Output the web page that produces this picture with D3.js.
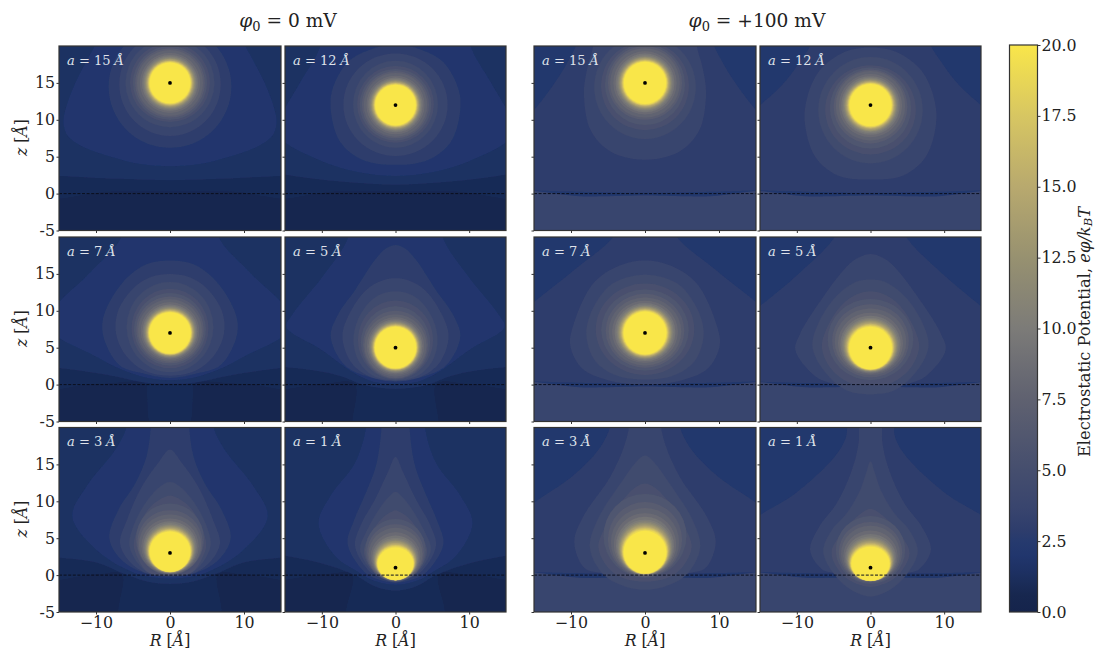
<!DOCTYPE html>
<html>
<head>
<meta charset="utf-8">
<script src="https://cdn.jsdelivr.net/npm/d3@7"></script>
<style>
  body { margin: 0; background: #fff; }
  text { font-family: "DejaVu Serif", serif; fill: #222; }
</style>
</head>
<body>
<svg id="chart" width="1095" height="650"></svg>
<script>
////////////////////////////  VALUES  ////////////////////////////
var ionHeights = [15, 12, 7, 5, 3, 1];
var xTicks = [-10, 0, 10];
var zTicks = [-5, 0, 5, 10, 15];
var barTicks = [0, 2.5, 5, 7.5, 10, 12.5, 15, 17.5, 20];

var colorLevels = [0, 0.6, 1.0, 1.4, 2.0, 2.5, 2.9, 3.7, 5, 7.5, 10, 12.5, 15, 17.5, 20];
var colorStops = ["#15244c", "#17274f", "#1a2c58", "#1d3062", "#21366d", "#263a6e", "#2e3d6c", "#39456e",
                  "#454e6e", "#5f6170", "#7c7b78", "#979170", "#b8a96e", "#d7c662", "#f9e64a"];

// soft edge of the disc: level, and how far out between disc and last ring
var glowLevels = [19, 18, 17, 16, 15, 14, 13, 12, 11, 10.1, 9.3, 8.5];
var glowSteps = [0.05, 0.085, 0.12, 0.155, 0.195, 0.245, 0.3, 0.355, 0.42, 0.5, 0.61, 0.77];

// half outlines [R, z], level first. rings: level, top, bottom, half width. disc: top, bottom, half width
var shapes0_15 = [
  [0.9, [[0,0.3],[8,0.3],[20,0.3],[20,30],[0,30]]],
  [1.4, [[0,1.8],[7,2],[15,2.4],[20,2.6],[20,30],[0,30]]],
  [2.0, [[0,3.7],[4,4],[8,5],[11.5,6.2],[13.8,7.8],[14.4,9.5],[14.1,11.5],[12.8,15],[11,18.5],[10,20.5],[9.5,24],[0,24]]]
];
var rings0_15 = [[2.9,22.8,6.2,8.3],[3.7,21.85,7.8,6.85],[4.5,21,9,6],[5.3,20.4,9.7,5.4],[6.1,20,10,5],[6.9,19.7,10.3,4.7],[7.7,19.45,10.55,4.45]];
var disc0_15 = [17.75, 12.25, 2.75];

var shapes0_12 = [
  [0.9, [[0,0.3],[8,0.3],[20,0.3],[20,30],[0,30]]],
  [1.4, [[0,1.2],[6,1.5],[12,2.1],[15.5,2.6],[20,3],[20,30],[0,30]]],
  [2.0, [[0,2.4],[5,2.9],[10,4.4],[15.5,7.4],[16,9],[15.5,10.6],[13,15],[10.2,20],[9.8,24],[0,24]]],
  [2.9, [[0,3.9],[4.5,4.6],[7.5,7],[8.75,11],[8.6,14],[6.5,17.8],[3.5,19.5],[0,20.2]]]
];
var rings0_12 = [[3.7,19,5.1,7.07],[4.5,18,6.2,5.75],[5.3,17.3,6.9,5.2],[6.1,16.9,7.2,4.85],[6.9,16.6,7.5,4.55],[7.7,16.35,7.7,4.3]];
var disc0_12 = [14.75, 9.25, 2.75];

var shapes0_7 = [
  [0.9, [[0,-6],[2.5,-5.5],[3.1,-1.5],[3.3,0.1],[10,0.1],[20,0.1],[20,30],[0,30]]],
  [1.4, [[0,0.1],[3.5,0.3],[7.4,1.1],[11,1.7],[15.5,2.3],[20,2.6],[20,30],[0,30]]],
  [2.0, [[0,0.6],[3,0.9],[6.5,2],[10.8,4.2],[15.5,6.8],[16,8.5],[15.5,10.5],[11,15],[6.6,20],[6.2,24],[0,24]]],
  [2.9, [[0,0.9],[4,1.6],[6.5,2.4],[7.8,3.8],[9.1,7],[8.9,9.5],[6.5,13.7],[3.4,16.2],[0,16.8]]],
  [3.7, [[0,1.2],[3.5,1.9],[6,4],[7.3,7],[7,10],[5,13],[2.5,14.6],[0,15]]]
];
var rings0_7 = [[4.5,13.9,1.7,5.85],[5.3,13,2.2,5.2],[6.1,12.4,2.6,4.85],[6.9,11.95,2.9,4.55],[7.7,11.55,3.1,4.3]];
var disc0_7 = [9.8, 4.2, 2.8];

var shapes0_5 = [
  [0.9, [[0,-6.5],[5.55,-6.5],[5.55,0.1],[10,0.1],[20,0.1],[20,30],[0,30]]],
  [1.4, [[0,-0.6],[2.5,-0.4],[4.5,0],[7.3,1.1],[11,1.9],[15.5,2.4],[20,2.7],[20,30],[0,30]]],
  [2.0, [[0,0.1],[3,0.4],[5.5,1.5],[10,4.7],[14.8,7.8],[14,9.5],[10,14.5],[6.4,20],[6,24],[0,24]]],
  [2.9, [[0,0.4],[3.5,1],[6.85,2.6],[8.8,6.5],[7.8,9.5],[5.5,12.8],[2.8,16.9],[1.2,18.5],[0,18.9]]],
  [3.7, [[0,0.5],[3.5,1.1],[6,3],[7.2,6.5],[6.3,9.5],[4,12.8],[1.8,14.1],[0,14.4]]],
  [4.5, [[0,0.6],[3,1.2],[5,3.2],[5.7,6],[5.1,8.8],[3.3,11.4],[1.5,12.4],[0,12.6]]]
];
var rings0_5 = [[5.3,11.4,0.7,5.1],[6.1,10.6,0.8,4.7],[6.9,10,0.9,4.4],[7.7,9.5,1.1,4.2]];
var disc0_5 = [7.85, 2.2, 2.8];

var shapes0_3 = [
  [0.9, [[0,-6.5],[6.7,-6],[6.5,0.1],[10,0.1],[20,0.1],[20,30],[0,30]]],
  [1.4, [[0,-1.2],[3,-0.9],[5.5,-0.1],[7,0.5],[10,1.7],[15.5,2.4],[20,2.7],[20,30],[0,30]]],
  [2.0, [[0,-0.5],[3,-0.2],[5.2,0.45],[9.7,3.2],[13.2,7.9],[11.3,12],[7.4,17],[5.9,20],[5.7,24],[0,24]]],
  [2.9, [[0,-0.2],[3.5,0.3],[6.5,2],[8.2,5],[7,8.8],[4.7,12.4],[3.2,16],[2.6,20],[2.5,24],[0,24]]],
  [3.7, [[0,-0.15],[3.5,0.4],[5.6,2],[6.75,4.3],[5.8,7.5],[3.8,12],[1.6,15.2],[0,17]]],
  [4.5, [[0,-0.1],[3,0.4],[4.8,2.3],[5.5,4.2],[4.8,7],[3,10.2],[1.3,12],[0,12.6]]],
  [5.3, [[0,-0.05],[3,0.4],[4.4,2.4],[4.9,4],[4.3,6.5],[2.7,9.2],[1.1,10.4],[0,10.8]]]
];
var rings0_3 = [[6.1,9.7,0,4.6],[6.9,8.8,0.05,4.4],[7.7,8.2,0.1,4.2]];
var disc0_3 = [5.9, 0.45, 2.75];

var shapes0_1 = [
  [0.9, [[0,-7],[6.5,-6],[5.9,0.1],[10,0.1],[20,0.1],[20,30],[0,30]]],
  [1.4, [[0,-2.1],[2,-1.8],[3.5,-1.2],[5.3,-0.1],[7,0.6],[10.5,1.7],[15.5,2.7],[20,3],[20,30],[0,30]]],
  [2.0, [[0,-1.3],[2.8,-0.8],[5.5,0.7],[8.2,2.6],[10.45,7],[8.8,10.8],[5.5,15.2],[4,20],[3.9,24],[0,24]]],
  [2.9, [[0,-1.05],[2.3,-0.6],[4.2,0.4],[6.5,4.2],[5.6,7.5],[4.1,11],[2.6,15],[1.9,20],[1.8,24],[0,24]]],
  [3.7, [[0,-1],[2,-0.4],[3.8,0.8],[5.5,4],[4.6,7],[2.8,10.2],[1,14],[0,16]]],
  [4.5, [[0,-0.95],[2,-0.3],[3.6,1],[4.8,3.5],[3.9,6],[2.3,8.8],[0.9,10.6],[0,11.3]]],
  [5.3, [[0,-0.9],[2,-0.2],[3.4,1],[4.3,3.2],[3.5,5.4],[1.9,7.6],[0.7,8.5],[0,8.8]]]
];
var rings0_1 = [[6.1,7.6,-0.85,4.1],[6.9,6.9,-0.8,3.85],[7.7,6.4,-0.75,3.65]];
var disc0_1 = [3.75, -0.68, 2.43];

var below100 = [3.7, [[0,-0.25],[8,-0.4],[20,-0.45],[20,-12],[0,-12]]];

var shapes100_15 = [
  [2.9, [[0,0.1],[8,0.2],[15.5,0.45],[20,0.5],[20,6],[15.5,10.7],[12.4,14.7],[10.2,18.3],[9.2,20.5],[9,24],[0,24]]],
  below100,
  [3.7, [[0,4.6],[4.5,5.6],[7.3,8.5],[8.25,13.5],[7.8,17],[7,20],[6.8,24],[0,24]]]
];
var rings100_15 = [[4.5,21.4,7.4,6.85],[5.3,20.6,8.6,5.95],[6.1,20.3,9.3,5.4],[6.9,20,10,5],[7.7,19.7,10.3,4.7]];
var disc100_15 = [17.85, 12.15, 2.85];

var shapes100_12 = [
  [2.9, [[0,0.1],[8,0.2],[15.5,0.45],[20,0.5],[20,7],[15.5,11.5],[12,14.7],[9.5,18],[8,20.5],[7.8,24],[0,24]]],
  below100,
  [3.7, [[0,1.9],[4.5,2.5],[7.5,5],[8.9,9.5],[8.6,13],[6.8,16.8],[3.5,19.2],[0,19.8]]]
];
var rings100_12 = [[4.5,18.5,4.1,7.07],[5.3,17.4,5.3,6.15],[6.1,17.1,6.1,5.5],[6.9,16.8,6.8,5],[7.7,16.6,7.2,4.7]];
var disc100_12 = [14.85, 9.15, 2.85];

var shapes100_7 = [
  [2.9, [[0,0.1],[8,0.2],[15.5,0.45],[20,0.5],[20,7],[15.5,10.8],[9.5,15.6],[4,20.5],[3.5,24],[0,24]]],
  below100,
  [3.7, [[0,0],[5,0.6],[8.5,2.2],[10.1,5.3],[9.7,8],[7,13.7],[3.5,16.1],[0,16.8]]],
  [4.5, [[0,0.7],[4,1.3],[6.7,3.2],[7.9,6.5],[7.4,9.5],[5,13.2],[2.5,14.5],[0,14.9]]]
];
var rings100_7 = [[5.3,13.7,1.3,6.65],[6.1,12.9,1.9,5.9],[6.9,12.3,2.3,5.3],[7.7,11.8,2.6,4.9]];
var disc100_7 = [9.9, 4.1, 2.88];

var shapes100_5 = [
  [2.9, [[0,0.1],[6,0.15],[15.5,0.4],[20,0.5],[20,6],[15.5,10.2],[9.8,15],[4.6,20.5],[4.2,24],[0,24]]],
  below100,
  [3.7, [[0,-0.5],[6,0.4],[7.7,1.3],[10.2,4.7],[9.6,6.8],[6.4,11.9],[2.8,16.4],[1.2,17.4],[0,17.7]]],
  [4.5, [[0,-1.3],[3.2,-0.8],[6,1.5],[7.85,5],[7.2,8],[4.8,11.8],[2,13.9],[0,14.2]]],
  [5.3, [[0,-0.1],[3,0.3],[5.4,2.2],[6.6,5],[6,7.5],[3.9,10.8],[1.7,12.3],[0,12.6]]]
];
var rings100_5 = [[6.1,11.6,0.6,5.8],[6.9,10.9,1,5.2],[7.7,10.3,1.3,4.85]];
var disc100_5 = [7.85, 2.08, 2.9];

var shapes100_3 = [
  [2.9, [[0,0.1],[6,0.2],[15.5,0.4],[20,0.5],[20,5],[15.5,9.4],[9.7,13.5],[6,17.4],[4.6,20.5],[4.4,24],[0,24]]],
  below100,
  [3.7, [[0,-0.5],[6,0.3],[8.2,1],[9.55,4.5],[8.3,8],[4.7,13.3],[2.8,17.5],[2.1,20.5],[2,24],[0,24]]],
  [4.5, [[0,-2],[3.8,-1.1],[6,0.5],[7.45,3.8],[6.4,7.5],[3.1,12.7],[1.3,15.2],[0,16.2]]],
  [5.3, [[0,-0.9],[3,-0.4],[5,1],[6.3,3.8],[5.4,6.5],[3.3,9.8],[1.4,11.8],[0,12.4]]]
];
var rings100_3 = [[6.1,11,-0.35,5.6],[6.9,9.9,-0.25,5],[7.7,9.1,-0.15,4.6]];
var disc100_3 = [6, 0.2, 2.88];

var shapes100_1 = [
  [2.9, [[0,0.1],[6,0.2],[15.5,0.4],[20,0.5],[20,4],[15.5,7.8],[10.3,11],[4.9,16],[3.4,18.5],[3.15,20.5],[3.1,24],[0,24]]],
  below100,
  [3.7, [[0,-0.5],[5,0.3],[6.6,0.8],[8.2,3.4],[7,6.5],[4.6,9.7],[2.6,14],[1.6,18],[1.45,24],[0,24]]],
  [4.5, [[0,-2.9],[2.8,-1.9],[5,0.2],[6.4,3.2],[5.3,6],[3.2,8.4],[1.4,11.5],[0.6,13.8],[0,15.4]]],
  [5.3, [[0,-1.6],[2.5,-0.9],[4.2,0.5],[5.3,3],[4.3,5.2],[2.2,7.6],[0.8,8.7],[0,9]]]
];
var rings100_1 = [[6.1,8,-1.2,4.7],[6.9,7.2,-1,4.3],[7.7,6.7,-0.9,4]];
var disc100_1 = [3.84, -0.77, 2.6];

var shapes0 = [shapes0_15, shapes0_12, shapes0_7, shapes0_5, shapes0_3, shapes0_1];
var rings0 = [rings0_15, rings0_12, rings0_7, rings0_5, rings0_3, rings0_1];
var discs0 = [disc0_15, disc0_12, disc0_7, disc0_5, disc0_3, disc0_1];
var shapes100 = [shapes100_15, shapes100_12, shapes100_7, shapes100_5, shapes100_3, shapes100_1];
var rings100 = [rings100_15, rings100_12, rings100_7, rings100_5, rings100_3, rings100_1];
var discs100 = [disc100_15, disc100_12, disc100_7, disc100_5, disc100_3, disc100_1];

////////////////////////////  LAYOUT  ////////////////////////////
var colEdges = [[59, 281], [285, 506], [534, 756], [760, 981]];
var rowEdges = [[46, 230.5], [237, 421.5], [427.5, 612]];
var spine = "#333";
var tickFont = 15.8;

var svg = d3.select("#chart");
var colorScale = d3.scaleLinear().domain(colorLevels).range(colorStops);
var outline = d3.line().curve(d3.curveCatmullRomClosed.alpha(0.5));

var defs = svg.append("defs");
defs.append("filter").attr("id", "soft")
    .attr("x", "-5%").attr("y", "-5%").attr("width", "110%").attr("height", "110%")
    .append("feGaussianBlur").attr("stdDeviation", 0.45);

function mirrored(pts) {
  var left = pts.filter(function(p) { return p[0] > 0; }).reverse().map(function(p) { return [-p[0], p[1]]; });
  return pts.concat(left);
}

function drawPanel(index, col, row, base, shapes, rings, disc, a) {
  var xScale = d3.scaleLinear().domain([-15, 15]).range(colEdges[col]);
  var yScale = d3.scaleLinear().domain([-5, 20]).range([rowEdges[row][1], rowEdges[row][0]]);
  var clipId = "clip" + index;

  defs.append("clipPath").attr("id", clipId).append("rect")
      .attr("x", xScale(-15)).attr("y", yScale(20))
      .attr("width", xScale(15) - xScale(-15)).attr("height", yScale(-5) - yScale(20));

  var panel = svg.append("g");
  var field = panel.append("g").attr("clip-path", "url(#" + clipId + ")")
                   .append("g").attr("filter", "url(#soft)");

  field.append("rect")
      .attr("x", xScale(-15) - 4).attr("y", yScale(20) - 4)
      .attr("width", xScale(15) - xScale(-15) + 8).attr("height", yScale(-5) - yScale(20) + 8)
      .attr("fill", colorScale(base));

  field.selectAll("path.band").data(shapes).enter().append("path")
      .attr("class", "band")
      .attr("fill", function(d) { return colorScale(d[0]); })
      .attr("d", function(d) {
        return outline(mirrored(d[1]).map(function(p) { return [xScale(p[0]), yScale(p[1])]; }));
      });

  field.selectAll("ellipse.ring").data(rings).enter().append("ellipse")
      .attr("class", "ring")
      .attr("fill", function(d) { return colorScale(d[0]); })
      .attr("cx", xScale(0))
      .attr("cy", function(d) { return yScale((d[1] + d[2]) / 2); })
      .attr("rx", function(d) { return xScale(d[3]) - xScale(0); })
      .attr("ry", function(d) { return yScale(d[2]) - yScale((d[1] + d[2]) / 2); });

  // glow between the last ring and the disc
  var last = rings[rings.length - 1];
  var glow = glowLevels.map(function(level, i) {
    var t = glowSteps[i];
    return [level, disc[0] + (last[1] - disc[0]) * t, disc[1] + (last[2] - disc[1]) * t, disc[2] + (last[3] - disc[2]) * t];
  }).reverse();
  glow.push([20, disc[0], disc[1], disc[2]]);

  field.selectAll("ellipse.glow").data(glow).enter().append("ellipse")
      .attr("class", "glow")
      .attr("fill", function(d) { return colorScale(d[0]); })
      .attr("cx", xScale(0))
      .attr("cy", function(d) { return yScale((d[1] + d[2]) / 2); })
      .attr("rx", function(d) { return xScale(d[3]) - xScale(0); })
      .attr("ry", function(d) { return yScale(d[2]) - yScale((d[1] + d[2]) / 2); });

  // surface and ion
  panel.append("line")
      .attr("x1", xScale(-15)).attr("x2", xScale(15))
      .attr("y1", yScale(0)).attr("y2", yScale(0))
      .attr("stroke", "#0b0f1e").attr("stroke-width", 1).attr("stroke-dasharray", "3,1.6");

  panel.append("circle")
      .attr("cx", xScale(0)).attr("cy", yScale(a)).attr("r", 1.9).attr("fill", "#000");

  var label = panel.append("text")
      .attr("x", xScale(-15) + 8).attr("y", yScale(20) + 18.5)
      .style("font-size", "13px").style("fill", "#dfe2ea");
  label.append("tspan").style("font-style", "italic").text("a");
  label.append("tspan").text(" = " + a + " ");
  label.append("tspan").style("font-style", "italic").text("Å");

  panel.append("rect")
      .attr("x", xScale(-15)).attr("y", yScale(20))
      .attr("width", xScale(15) - xScale(-15)).attr("height", yScale(-5) - yScale(20))
      .attr("fill", "none").attr("stroke", spine).attr("stroke-width", 1.2);

  // axes
  var bottomAxis = d3.axisBottom(xScale).tickValues(xTicks).tickSize(2.5).tickPadding(2)
      .tickFormat(row === 2 ? function(d) { return d3.format("")(d); } : "");
  var leftAxis = d3.axisLeft(yScale).tickValues(zTicks).tickSize(2.5).tickPadding(1.5)
      .tickFormat(col === 0 ? function(d) { return d; } : "");

  var gx = panel.append("g").attr("transform", "translate(0," + yScale(-5) + ")").call(bottomAxis);
  var gy = panel.append("g").attr("transform", "translate(" + xScale(-15) + ",0)").call(leftAxis);
  [gx, gy].forEach(function(g) {
    g.select(".domain").remove();
    g.selectAll(".tick line").attr("stroke", spine).attr("stroke-width", 1);
    g.selectAll("text").style("font-size", tickFont + "px").style("font-family", '"DejaVu Serif", serif').style("fill", "#222");
  });

  if (row === 2) {
    var rText = panel.append("text")
        .attr("x", xScale(0)).attr("y", 645.5).attr("text-anchor", "middle")
        .style("font-size", tickFont + "px");
    rText.append("tspan").style("font-style", "italic").text("R");
    rText.append("tspan").text(" [");
    rText.append("tspan").style("font-style", "italic").text("Å");
    rText.append("tspan").text("]");
  }
  if (col === 0) {
    var zText = panel.append("text")
        .attr("transform", "translate(27," + yScale(7.6) + ") rotate(-90)")
        .attr("text-anchor", "middle")
        .style("font-size", tickFont + "px");
    zText.append("tspan").style("font-style", "italic").text("z");
    zText.append("tspan").text(" [");
    zText.append("tspan").style("font-style", "italic").text("Å");
    zText.append("tspan").text("]");
  }
}

ionHeights.forEach(function(a, i) {
  var row = Math.floor(i / 2), col = i % 2;
  drawPanel(i, col, row, 0.6, shapes0[i], rings0[i], discs0[i], a);
  drawPanel(i + 6, col + 2, row, 2.1, shapes100[i], rings100[i], discs100[i], a);
});

////////////////////////////  TITLES  ////////////////////////////
function drawTitle(x, rest) {
  var t = svg.append("text").attr("x", x).attr("y", 27).attr("text-anchor", "middle").style("font-size", "18.6px");
  t.append("tspan").style("font-style", "italic").text("φ");
  t.append("tspan").attr("dy", 3.5).style("font-size", "13px").text("0");
  t.append("tspan").attr("dy", -3.5).text(rest);
}
drawTitle(288, " = 0 mV");
drawTitle(757, " = +100 mV");

////////////////////////////  COLOUR BAR  ////////////////////////////
var barScale = d3.scaleLinear().domain([0, 20]).range([612, 45]);
var barX = 1009.5, barW = 28;

var gradient = defs.append("linearGradient").attr("id", "barGradient")
    .attr("x1", 0).attr("x2", 0).attr("y1", 1).attr("y2", 0);
gradient.selectAll("stop").data(colorLevels).enter().append("stop")
    .attr("offset", function(d) { return d / 20; })
    .attr("stop-color", function(d) { return colorScale(d); });

svg.append("rect")
    .attr("x", barX).attr("y", barScale(20)).attr("width", barW).attr("height", barScale(0) - barScale(20))
    .attr("fill", "url(#barGradient)").attr("stroke", spine).attr("stroke-width", 1.2);

var barAxis = d3.axisRight(barScale).tickValues(barTicks).tickSize(3).tickPadding(1).tickFormat(d3.format(".1f"));
var barG = svg.append("g").attr("transform", "translate(" + (barX + barW) + ",0)").call(barAxis);
barG.select(".domain").remove();
barG.selectAll(".tick line").attr("stroke", spine);
barG.selectAll("text").style("font-size", tickFont + "px").style("font-family", '"DejaVu Serif", serif').style("fill", "#222");

var barLabel = svg.append("text")
    .attr("transform", "translate(1089.5,332) rotate(-90)")
    .attr("text-anchor", "middle").style("font-size", "16.3px");
barLabel.append("tspan").text("Electrostatic Potential, ");
barLabel.append("tspan").style("font-style", "italic").text("eφ/k");
barLabel.append("tspan").attr("dy", 2.5).style("font-size", "11.5px").style("font-style", "italic").text("B");
barLabel.append("tspan").attr("dy", -2.5).style("font-style", "italic").text("T");
</script>
</body>
</html>
